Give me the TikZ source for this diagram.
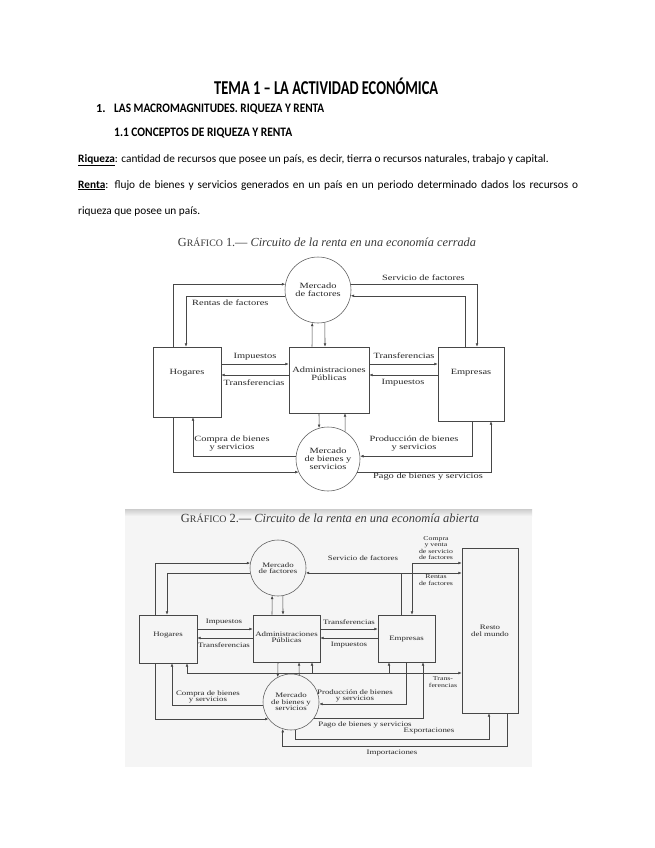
\documentclass[tikz,border=0pt]{standalone}
\usepackage{fontspec}
\setmainfont{Liberation Serif}
\newfontfamily\hdr[Ligatures=TeX]{Carlito}
\newfontfamily\gf[FakeStretch=1.3]{Liberation Serif}
\usetikzlibrary{arrows.meta}
\begin{document}
\begin{tikzpicture}[x=1pt,y=-1pt, >={Latex[length=3.4pt,width=2.8pt]},
  ln/.style={draw=black!72, line width=0.55pt},
  bx/.style={draw=black!72, line width=0.55pt, inner sep=0pt},
  cc/.style={draw=black!65, line width=0.55pt, circle, inner sep=0pt, align=center},
  ta/.style={font=\gf\fontsize{8}{8}\selectfont, text=black!85, inner sep=0pt, align=center},
  tb/.style={font=\gf\fontsize{6.8}{6.6}\selectfont, text=black!85, inner sep=0pt, align=center},
  tc/.style={font=\gf\fontsize{6}{6.5}\selectfont, text=black!85, inner sep=0pt, align=center},
  hd/.style={anchor=base west, inner sep=0pt, font=\hdr},
]
\useasboundingbox (0,0) rectangle (655,848);
\fill[white] (0,0) rectangle (655,848);

% ---------- header ----------
\node[hd] (title) at (214,95) {\resizebox{224pt}{16.5pt}{\bfseries TEMA 1 – LA ACTIVIDAD ECONÓMICA}};
\node[hd] (h1n) at (96,113) {\resizebox{!}{8pt}{\bfseries 1.}};
\node[hd] (h1) at (114,113) {\resizebox{210pt}{8.5pt}{\bfseries LAS MACROMAGNITUDES. RIQUEZA Y RENTA}};
\node[hd] (h2) at (114,136) {\resizebox{178pt}{8.5pt}{\bfseries 1.1 CONCEPTOS DE RIQUEZA Y RENTA}};
\node[hd, font=\hdr\fontsize{11.3}{12}\selectfont] (p1) at (78,162)
  {\underline{\textbf{Riqueza}}: cantidad de recursos que posee un país, es decir, tierra o recursos naturales, trabajo y capital.};
\node[hd, font=\hdr\fontsize{11.3}{12}\selectfont] (p2) at (78,188)
  {\makebox[500pt][s]{\underline{\textbf{Renta}}: flujo de bienes y servicios generados en un país en un periodo determinado dados los recursos o}};
\node[hd, font=\hdr\fontsize{11.3}{12}\selectfont] (p3) at (78,214) {riqueza que posee un país.};

% ---------- Grafico 1 ----------
\node[inner sep=0pt, text=black!78] (cap1) at (327,242)
  {\resizebox{298pt}{!}{G{\footnotesize RÁFICO} 1.— \textit{Circuito de la renta en una economía cerrada}}};

\node[bx, minimum width=68pt, minimum height=70pt] (hog1) at (187,382) {};
\node[ta] (hog1t) at ([yshift=9pt]hog1.center) {Hogares};
\node[bx, minimum width=80pt, minimum height=66pt] (adm1) at (329,380) {};
\node[ta] (adm1t) at ([yshift=6pt]adm1.center) {Administraciones\\Públicas};
\node[bx, minimum width=66pt, minimum height=74pt] (emp1) at (471,384) {};
\node[ta] (emp1t) at ([yshift=11pt]emp1.center) {Empresas};
\node[cc, ta, minimum size=66pt, draw=black!65] (mf1) at (318,290) {Mercado\\de factores};
\node[cc, ta, minimum size=64pt, draw=black!65] (mb1) at (328,459) {Mercado\\de bienes y\\servicios};

\draw[ln,->] (hog1.north -| 173,0) |- (mf1.170);
\draw[ln,->] (mf1.190) -| (hog1.north -| 186,0);
\draw[ln,->] (mf1.10) -| (emp1.north -| 477,0);
\draw[ln,->] (emp1.north -| 465,0) |- (mf1.350);
\draw[ln,->] (adm1.north -| 312,0) -- (mf1.260);
\draw[ln,->] (mf1.282) -- (adm1.north -| 325,0);
\draw[ln,->] (hog1.east |- 0,364) -- (adm1.west |- 0,364);
\draw[ln,->] (adm1.west |- 0,375) -- (hog1.east |- 0,375);
\draw[ln,->] (adm1.east |- 0,364) -- (emp1.west |- 0,364);
\draw[ln,->] (emp1.west |- 0,375) -- (adm1.east |- 0,375);
\draw[ln,->] (adm1.south -| 319,0) -- (mb1.106);
\draw[ln,->] (mb1.58) -- (adm1.south -| 345,0);
\draw[ln,->] (mb1.175) -| (hog1.south -| 193,0);
\draw[ln,->] (hog1.south -| 173,0) |- (mb1.204);
\draw[ln,->] (emp1.south -| 472,0) |- (mb1.5);
\draw[ln,->] (mb1.336) -| (emp1.south -| 491,0);

\node[ta, anchor=west] (l1a) at (192,303) {Rentas de factores};
\node[ta, anchor=west] (l1b) at (382,278) {Servicio de factores};
\node[ta] (l1c) at (255,357) {Impuestos};
\node[ta] (l1d) at (254,383) {Transferencias};
\node[ta] (l1e) at (404,356) {Transferencias};
\node[ta] (l1f) at (403,383) {Impuestos};
\node[ta] (l1g) at (232,444) {Compra de bienes\\y servicios};
\node[ta] (l1h) at (414,444) {Producción de bienes\\y servicios};
\node[ta] (l1i) at (428,477) {Pago de bienes y servicios};

% ---------- Grafico 2 ----------
\fill[black!4] (125,509) rectangle (532,767);
\shade[top color=black!20, bottom color=black!4] (125,509) rectangle (532,516);
\node[inner sep=0pt, text=black!78] (cap2) at (330,518)
  {\resizebox{298pt}{!}{G{\footnotesize RÁFICO} 2.— \textit{Circuito de la renta en una economía abierta}}};

\node[bx, minimum width=58pt, minimum height=48pt] (hog2) at (168,639) {};
\node[tb] (hog2t) at ([yshift=4pt]hog2.center) {Hogares};
\node[bx, minimum width=67pt, minimum height=47pt] (adm2) at (286.5,638.5) {};
\node[tb] (adm2t) at ([yshift=1.5pt]adm2.center) {Administraciones\\Públicas};
\node[bx, minimum width=57pt, minimum height=47pt] (emp2) at (406.5,638.5) {};
\node[tb] (emp2t) at (emp2.center) {Empresas};
\node[bx, minimum width=56pt, minimum height=165pt] (resto) at (490,630.5) {};
\node[tb] (restot) at (resto.center) {Resto\\del mundo};
\node[cc, tb, minimum size=56pt, draw=black!65] (mf2) at (278,568) {Mercado\\de factores};
\node[cc, tb, minimum size=56pt, draw=black!65] (mb2) at (291,702) {Mercado\\de bienes y\\servicios};

\draw[ln,->] (hog2.north -| 155,0) |- (mf2.170);
\draw[ln,->] (mf2.190) -| (hog2.north -| 167,0);
\draw[ln,->] (adm2.north -| 272,0) -- (mf2.258);
\draw[ln,->] (mf2.280) -- (adm2.north -| 283,0);
\draw[ln,->] (emp2.north -| 401,0) |- (mf2.350);
\draw[ln,->] (emp2.north -| 401,0) |- (resto.west |- 0,573);
\draw[ln,<->] (emp2.north -| 412,0) |- (resto.west |- 0,563);
\draw[ln,->] (hog2.east |- 0,629) -- (adm2.west |- 0,629);
\draw[ln,->] (adm2.west |- 0,638) -- (hog2.east |- 0,638);
\draw[ln,->] (adm2.east |- 0,629) -- (emp2.west |- 0,629);
\draw[ln,->] (emp2.west |- 0,638) -- (adm2.east |- 0,638);
\draw[ln,<->] (hog2.south -| 187,0) |- (resto.west |- 0,673);
\coordinate (tra) at (312,673);
\coordinate (trb) at (389,673);
\draw[ln,->] (tra) -- (adm2.south -| tra);
\draw[ln,->] (trb) -- (emp2.south -| trb);
\draw[ln,->] (adm2.south -| 278,0) -- (mb2.118);
\draw[ln,->] (mb2.73) -- (adm2.south -| 299,0);
\draw[ln,->] (mb2.186) -| (hog2.south -| 172,0);
\draw[ln,->] (hog2.south -| 155,0) |- (mb2.217);
\draw[ln,->] (emp2.south -| 406,0) |- (mb2.356);
\draw[ln,->] (mb2.325) -| (emp2.south -| 423,0);
\coordinate (exc) at (489,739);
\draw[ln,->] (mb2.278) |- (exc) -- (resto.south -| exc);
\coordinate (imc) at (507,746);
\draw[ln,->] (resto.south -| imc) -- (imc) -| (mb2.253);

\node[tb] (l2a) at (363,558) {Servicio de factores};
\node[tc] (l2b) at (436,548) {Compra\\y venta\\de servicio\\de factores};
\node[tc] (l2c) at (436,580) {Rentas\\de factores};
\node[tb] (l2d) at (224,622) {Impuestos};
\node[tb] (l2e) at (224,645) {Transferencias};
\node[tb] (l2f) at (349,622) {Transferencias};
\node[tb] (l2g) at (349,645) {Impuestos};
\node[tc] (l2h) at (443,682) {Trans-\\ferencias};
\node[tb] (l2i) at (208,697) {Compra de bienes\\y servicios};
\node[tb] (l2j) at (355,696) {Producción de bienes\\y servicios};
\node[tb] (l2k) at (365,725) {Pago de bienes y servicios};
\node[tb] (l2l) at (429,731) {Exportaciones};
\node[tb] (l2m) at (392,753) {Importaciones};
\end{tikzpicture}
\end{document}
